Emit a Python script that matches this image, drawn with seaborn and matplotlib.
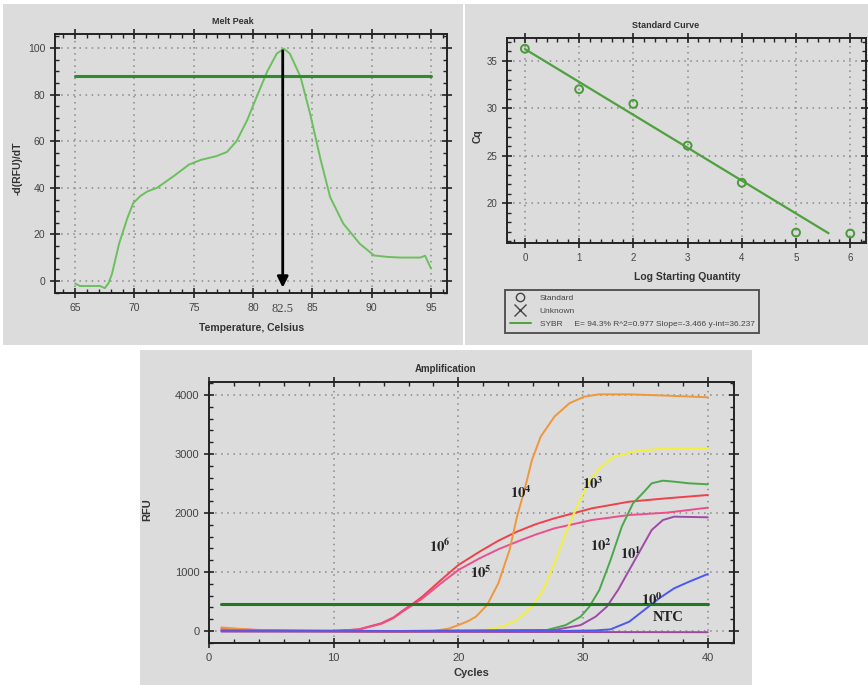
import numpy as np
import pandas as pd
import matplotlib
matplotlib.use("Agg")
import matplotlib.pyplot as plt
from matplotlib.patches import Rectangle
from matplotlib.lines import Line2D
from matplotlib.ticker import MultipleLocator
import seaborn as sns

# ---- Melt peak data
melt_temp = [65.0, 65.4, 67.1, 67.5, 67.8, 68.1, 68.7, 69.4, 69.9, 70.5, 71.1, 71.9, 73.3, 74.6, 75.6,
             76.9, 77.8, 78.6, 79.5, 80.3, 81.2, 82.0, 82.6, 83.1, 84.0, 84.8, 85.7, 86.5, 87.6,
             89.0, 90.2, 91.3, 92.4, 94.1, 94.5, 95.0]
melt_value = [-1, -2.1, -2.1, -3, -1, 3, 16, 27, 33.5, 36.5, 38.5, 40, 45, 50, 52,
              53.6, 55.4, 60, 69, 79, 90, 97.6, 99.7, 97.6, 87.6, 72, 52, 36, 24.7,
              16, 11, 10.4, 10.1, 10.1, 10.9, 5.4]
melt_threshold = 87.9
melt_peak = 82.5

# ---- Standard curve data
log_qty = [0, 1, 2, 3, 4, 5, 6]
cq_values = [36.27, 32.0, 30.46, 26.06, 22.15, 16.9, 16.8]
fit_slope = -3.466
fit_intercept = 36.237
fit_x = [0, 5.6]

# ---- Amplification data
amp_samples = {
    "10^6": ([1, 6.6, 9.9, 12, 13.8, 14.8, 15.6, 16.4, 17.1, 18.6, 20, 21.7, 23.2, 24.7, 26.2, 27.7,
              30.7, 33.7, 36.7, 40],
             [28, 0, 0, 28, 130, 230, 356, 470, 582, 864, 1119, 1345, 1530, 1684, 1810, 1910,
              2079, 2192, 2249, 2305]),
    "10^5": ([1, 6.6, 9.9, 12, 13.8, 14.8, 15.6, 16.4, 17.1, 18.6, 20, 21.7, 23.2, 24.7, 26.2, 27.7,
              30.7, 33.7, 36.7, 40],
             [40, 0, 0, 25, 120, 220, 340, 450, 550, 808, 1034, 1232, 1385, 1514, 1635, 1740,
              1881, 1966, 2006, 2090]),
    "10^4": ([1, 3.6, 8, 15.6, 18, 19.2, 20, 20.8, 21.4, 22.3, 23.2, 24.1, 24.7, 25.3, 25.9, 26.6,
              27.7, 28.9, 30.1, 31.3, 33.7, 36.7, 40],
             [62, 17, 0, -15, 0, 40, 100, 170, 243, 440, 808, 1373, 1938, 2390, 2898, 3294,
              3633, 3859, 3972, 4011, 4011, 3989, 3961]),
    "10^3": ([1, 10, 21.7, 23.5, 24.7, 25.9, 26.8, 27.7, 28.6, 29.5, 30.4, 31.3, 32.5, 34.3, 36.7, 40],
             [20, 0, 0, 73, 186, 412, 695, 1147, 1655, 2107, 2503, 2757, 2955, 3051, 3096, 3096]),
    "10^2": ([1, 15, 27.1, 28.6, 29.8, 30.5, 31.3, 32.2, 33.1, 34.0, 34.9, 35.5, 36.4, 37.3, 38.5, 40],
             [10, 0, 17, 100, 243, 412, 695, 1203, 1768, 2164, 2362, 2503, 2548, 2531, 2503, 2486]),
    "10^1": ([1, 15, 27.7, 29.8, 31.0, 31.9, 32.8, 33.7, 34.6, 35.5, 36.4, 37.3, 40],
             [10, 0, 17, 100, 243, 412, 695, 1034, 1373, 1712, 1881, 1938, 1927]),
    "10^0": ([1, 15, 28, 31, 32.2, 33.7, 34.9, 36.1, 37.3, 38.5, 40],
             [5, 0, 0, 10, 28, 158, 356, 554, 723, 836, 966]),
    "NTC": ([1, 40], [-10, -20]),
}
amp_colors = {"10^6": "#f0404a", "10^5": "#ec4f8c", "10^4": "#f0963c", "10^3": "#f2f03c",
              "10^2": "#4aa84a", "10^1": "#a04aa8", "10^0": "#4a5af0", "NTC": "#9a4a9a"}
amp_threshold = 450
amp_labels = ["10^{6}", "10^{5}", "10^{4}", "10^{3}", "10^{2}", "10^{1}", "10^{0}", "NTC"]
label_x = [18.5, 21.8, 25.0, 30.8, 31.4, 33.8, 35.5, 36.8]
label_y = [1441, 989, 2345, 2503, 1441, 1305, 537, 226]

sns.set_style("ticks")
plt.rcParams["font.family"] = ["Liberation Sans", "DejaVu Sans"]
plt.rcParams["mathtext.fontset"] = "stix"

W, H = 868, 685
fig = plt.figure(figsize=(W / 100, H / 100), dpi=100)
fig.patch.set_facecolor("white")
panel_grey = "#dcdcdc"


def px_rect(x0, y0, x1, y1):
    return [x0 / W, 1 - y1 / H, (x1 - x0) / W, (y1 - y0) / H]


for x0, y0, x1, y1 in [(3, 4, 463, 345), (465, 4, 868, 345), (140, 350, 752, 685)]:
    r = px_rect(x0, y0, x1, y1)
    fig.add_artist(Rectangle((r[0], r[1]), r[2], r[3], transform=fig.transFigure,
                             facecolor=panel_grey, edgecolor="none", zorder=0))


def style_axes(ax, xmaj, xmin, ymaj, ymin, fs=7.5):
    ax.set_facecolor(panel_grey)
    for s in ax.spines.values():
        s.set_visible(True)
        s.set_color("#222222")
        s.set_linewidth(1.4)
    ax.xaxis.set_major_locator(MultipleLocator(xmaj))
    ax.xaxis.set_minor_locator(MultipleLocator(xmin))
    ax.yaxis.set_major_locator(MultipleLocator(ymaj))
    ax.yaxis.set_minor_locator(MultipleLocator(ymin))
    ax.tick_params(which="major", direction="inout", length=7, width=1.2, color="#222222",
                   labelsize=fs, labelcolor="#444444", top=True, right=True)
    ax.tick_params(which="minor", direction="in", length=3, width=1, color="#222222",
                   top=True, right=True)
    ax.grid(True, which="major", linestyle=(0, (1, 3)), color="#888888", linewidth=1.1)
    ax.set_xlabel("")
    ax.set_ylabel("")


# ---- Panel 1: Melt Peak
ax1 = fig.add_axes(px_rect(55, 34, 447, 293))
melt_df = pd.DataFrame({"temp": melt_temp, "val": melt_value})
sns.lineplot(data=melt_df, x="temp", y="val", ax=ax1, color="#6cbf5e", linewidth=1.4,
             sort=False, estimator=None)
ax1.axhline(melt_threshold, xmin=(65 - 63.3) / (96.35 - 63.3), xmax=(95 - 63.3) / (96.35 - 63.3),
            color="#2e8b2e", linewidth=2.2)
ax1.annotate("", xy=(melt_peak, -4), xytext=(melt_peak, 100),
             arrowprops=dict(arrowstyle="-|>", color="black", lw=2, mutation_scale=16))
ax1.set_xlim(63.3, 96.35)
ax1.set_ylim(-5.1, 106)
style_axes(ax1, 5, 1, 20, 5)
ax1.text(melt_peak, -0.06, "82.5", transform=ax1.get_xaxis_transform(), ha="center", va="center",
         fontsize=9, family=["Liberation Serif", "DejaVu Serif"], color="#444444")
fig.text(233 / W, 1 - 22 / H, "Melt Peak", ha="center", va="center", fontsize=6.5, weight="bold",
         color="#333333")
fig.text(252 / W, 1 - 328 / H, "Temperature, Celsius", ha="center", va="center", fontsize=7.5,
         weight="bold", color="#333333")
fig.text(18 / W, 1 - 168 / H, "-d(RFU)/dT", ha="center", va="center", rotation=90, fontsize=7.5,
         weight="bold", color="#333333")

# ---- Panel 2: Standard Curve
ax2 = fig.add_axes(px_rect(507, 38, 866, 243))
std_df = pd.DataFrame({"logq": log_qty, "cq": cq_values})
fit_df = pd.DataFrame({"logq": fit_x, "cq": [fit_intercept + fit_slope * v for v in fit_x]})
sns.lineplot(data=fit_df, x="logq", y="cq", ax=ax2, color="#4fa03f", linewidth=1.6)
sns.scatterplot(data=std_df, x="logq", y="cq", ax=ax2, marker="o", s=32, facecolor="none",
                edgecolor="#4a9a3a", linewidth=1.4, zorder=5)
ax2.set_xlim(-0.33, 6.29)
ax2.set_ylim(15.8, 37.4)
style_axes(ax2, 1, 0.2, 5, 1, fs=7)
fig.text(666 / W, 1 - 25 / H, "Standard Curve", ha="center", va="center", fontsize=6.5,
         weight="bold", color="#333333")
fig.text(687 / W, 1 - 277 / H, "Log Starting Quantity", ha="center", va="center", fontsize=7.5,
         weight="bold", color="#333333")
fig.text(478 / W, 1 - 136 / H, "Cq", ha="center", va="center", rotation=90, fontsize=7.5,
         weight="bold", color="#333333")
handles = [Line2D([], [], marker="o", ls="none", mfc="none", mec="#444444", ms=6),
           Line2D([], [], marker="x", ls="none", mec="#444444", ms=8, mew=1),
           Line2D([], [], color="#4fa03f", lw=1.4)]
leg = ax2.legend(handles, ["Standard", "Unknown",
                           "SYBR     E= 94.3% R^2=0.977 Slope=-3.466 y-int=36.237"],
                 loc="upper left", bbox_to_anchor=(505 / W, 1 - 290 / H),
                 bbox_transform=fig.transFigure, fontsize=6, frameon=True, fancybox=False,
                 borderpad=0.55, labelspacing=0.6, handlelength=2.6, handletextpad=1.0,
                 borderaxespad=0)
leg.get_frame().set_edgecolor("#333333")
leg.get_frame().set_linewidth(1.4)
leg.get_frame().set_facecolor(panel_grey)
for t in leg.get_texts():
    t.set_color("#444444")

# ---- Panel 3: Amplification
ax3 = fig.add_axes(px_rect(209, 382, 734, 643))
rows = []
for name, (xs, ys) in amp_samples.items():
    for xv, yv in zip(xs, ys):
        rows.append({"cycle": xv, "rfu": yv, "sample": name})
amp_df = pd.DataFrame(rows)
sns.lineplot(data=amp_df, x="cycle", y="rfu", hue="sample", palette=amp_colors, ax=ax3,
             linewidth=1.4, legend=False, estimator=None, sort=False)
ax3.axhline(amp_threshold, xmin=1 / 42.1, xmax=40 / 42.1, color="#1f7a1f", linewidth=2.2)
ax3.set_xlim(0, 42.1)
ax3.set_ylim(-203, 4220)
style_axes(ax3, 10, 2, 1000, 200, fs=8)
for lab, lx, ly in zip(amp_labels, label_x, label_y):
    txt = lab if lab == "NTC" else "$\\mathbf{" + lab + "}$"
    ax3.text(lx, ly, txt, ha="center", va="center", fontsize=10.5, color="#222222",
             family=["Liberation Serif", "DejaVu Serif"], weight="bold")
fig.text(446 / W, 1 - 369 / H, "Amplification", ha="center", va="center", fontsize=7,
         weight="bold", color="#333333")
fig.text(471 / W, 1 - 673 / H, "Cycles", ha="center", va="center", fontsize=8,
         weight="bold", color="#333333")
fig.text(147 / W, 1 - 510 / H, "RFU", ha="center", va="center", rotation=90, fontsize=8,
         weight="bold", color="#333333")

fig.savefig("out.png", dpi=100, facecolor="white")
